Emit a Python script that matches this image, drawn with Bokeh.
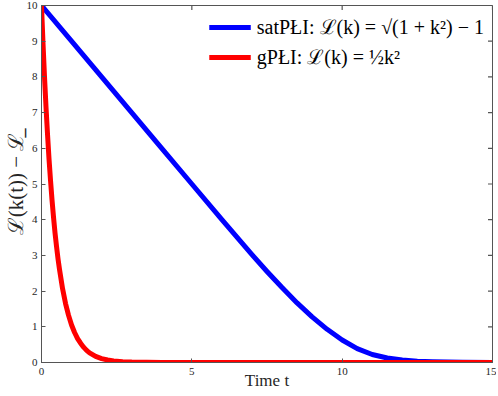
import math
from bokeh.plotting import figure
from bokeh.models import Range1d, Legend, LegendItem, FixedTicker
from bokeh.embed import file_html
from bokeh.resources import INLINE

# Data
sat_t = [0, 1, 2, 3, 4, 5, 6, 7, 7.5, 8, 8.5, 9, 9.5, 10, 10.5, 11, 11.5, 12, 12.5, 13, 13.5, 14, 15]
sat_L = [10, 9.0, 8.0, 7.0, 6.0, 5.0, 4.0, 3.02, 2.55, 2.1, 1.67, 1.28, 0.93, 0.63, 0.39, 0.225, 0.125, 0.07,
         0.038, 0.02, 0.011, 0.006, 0.002]
g_t = [0, 0.05, 0.1, 0.15, 0.2, 0.25, 0.3, 0.35, 0.4, 0.45, 0.5, 0.55, 0.6, 0.7, 0.8, 0.9, 1.0, 1.1, 1.2,
       1.3, 1.4, 1.5, 1.6, 1.8, 2.0, 2.2, 2.4, 2.7, 3.0, 3.5, 4, 5, 6, 8, 10, 12, 15]
g_L = [10, 8.95, 8.0, 7.15, 6.4, 5.7, 5.1, 4.55, 4.07, 3.63, 3.25, 2.9, 2.6, 2.07, 1.65, 1.32, 1.05, 0.84, 0.67,
       0.54, 0.43, 0.34, 0.27, 0.17, 0.11, 0.07, 0.045, 0.023, 0.012, 0.004, 0.0012, 0.0001, 0, 0, 0, 0, 0]
x_ticks = [0, 5, 10, 15]
y_ticks = [0, 1, 2, 3, 4, 5, 6, 7, 8, 9, 10]
sat_label = "satPŁI: ℒ(k) = √(1 + k²) − 1"
g_label = "gPŁI: ℒ(k) = ½k²"

FONT = "Liberation Serif"
AX = "#555555"

p = figure(width=496, height=392, output_backend="svg", toolbar_location=None,
           x_range=Range1d(0, 15), y_range=Range1d(0, 10),
           min_border_left=10, min_border_right=4, min_border_top=5, min_border_bottom=0)
p.grid.visible = False
p.outline_line_color = AX

r_sat = p.line(sat_t, sat_L, line_color="#0000ff", line_width=5, line_join="round")
r_g = p.line(g_t, g_L, line_color="#ff0000", line_width=5, line_join="round")

# mirrored inward ticks on top and right edges (box on)
p.scatter(x=x_ticks, y=[10] * len(x_ticks), marker="dash", size=9, angle=math.pi / 2,
          line_color=AX, line_width=1.2)
p.scatter(x=[15] * len(y_ticks), y=y_ticks, marker="dash", size=9,
          line_color=AX, line_width=1.2)

p.xaxis.ticker = FixedTicker(ticks=x_ticks)
p.yaxis.ticker = FixedTicker(ticks=y_ticks)
for ax in (p.xaxis[0], p.yaxis[0]):
    ax.axis_line_color = AX
    ax.major_tick_line_color = AX
    ax.major_tick_in = 4
    ax.major_tick_out = 0
    ax.minor_tick_line_color = None
    ax.major_label_text_font = FONT
    ax.major_label_text_font_size = "11px"
    ax.major_label_text_color = "#262626"
    ax.major_label_standoff = 4
    ax.axis_label_text_font = FONT
    ax.axis_label_text_font_style = "normal"
    ax.axis_label_text_color = "#262626"
p.xaxis.major_label_standoff = 5
p.xaxis.axis_label = "Time t"
p.yaxis.axis_label = "ℒ(k(t)) − ℒ̲"
p.xaxis.axis_label_text_font_size = "17px"
p.xaxis.axis_label_standoff = -7
p.yaxis.axis_label_text_font_size = "21px"
p.yaxis.axis_label_standoff = -4

legend = Legend(items=[LegendItem(label=sat_label, renderers=[r_sat]),
                       LegendItem(label=g_label, renderers=[r_g])],
                location="top_right")
legend.border_line_color = None
legend.background_fill_alpha = 0
legend.label_text_font = FONT
legend.label_text_font_size = "20px"
legend.label_text_color = "#000000"
legend.glyph_width = 42
legend.glyph_height = 22
legend.label_height = 22
legend.spacing = 3
legend.margin = 8
legend.padding = 8
legend.label_standoff = 6
p.add_layout(legend)

open("out.html", "w").write(file_html(p, INLINE))
